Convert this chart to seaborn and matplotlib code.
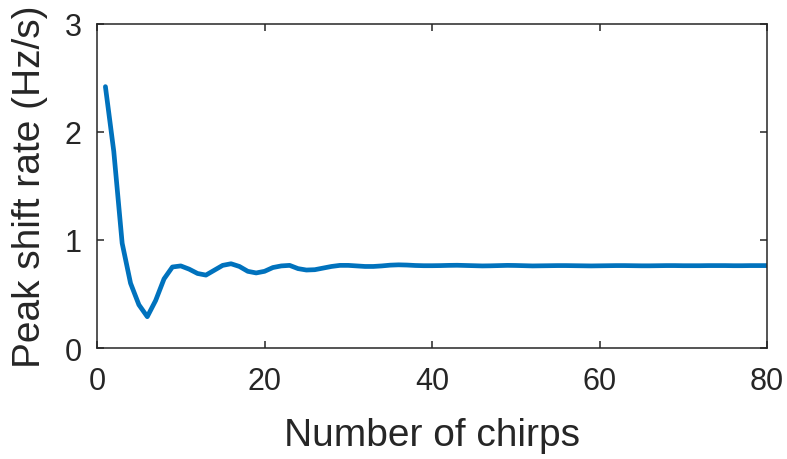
import numpy as np
import pandas as pd
import matplotlib
matplotlib.use("Agg")
import matplotlib.pyplot as plt
import seaborn as sns

# Peak shift rate estimated after each number of chirps
num_chirps = list(range(1, 81))
shift_rate = [
    2.42, 1.82, 0.97, 0.60, 0.40, 0.29, 0.44, 0.64, 0.75, 0.76,
    0.73, 0.69, 0.675, 0.72, 0.765, 0.78, 0.755, 0.71, 0.695, 0.71,
    0.745, 0.76, 0.765, 0.735, 0.722, 0.725, 0.74, 0.755, 0.765, 0.765,
    0.76, 0.755, 0.755, 0.76, 0.767, 0.770, 0.768, 0.764, 0.762, 0.762,
    0.763, 0.765, 0.766, 0.764, 0.762, 0.760, 0.761, 0.763, 0.765, 0.764,
    0.762, 0.760, 0.761, 0.762, 0.763, 0.763, 0.762, 0.761, 0.760, 0.761,
    0.762, 0.763, 0.763, 0.762, 0.761, 0.761, 0.762, 0.763, 0.763, 0.762,
    0.762, 0.762, 0.763, 0.763, 0.763, 0.762, 0.762, 0.763, 0.763, 0.763,
]
x_ticks = [0, 20, 40, 60, 80]
y_ticks = [0, 1, 2, 3]

sns.set_style("white")
plt.rcParams["font.family"] = ["Liberation Sans", "DejaVu Sans"]

df = pd.DataFrame({"chirps": num_chirps, "rate": shift_rate})

fig = plt.figure(figsize=(7.87, 4.60), dpi=100)
ax = fig.add_axes([0.1233, 0.2413, 0.8513, 0.7044])

sns.lineplot(data=df, x="chirps", y="rate", ax=ax, color="#0072BD",
             linewidth=3.4, solid_joinstyle="round")

ax.set_xlim(0, 80)
ax.set_ylim(0, 3)
ax.set_xticks(x_ticks)
ax.set_yticks(y_ticks)
ax.set_xlabel("Number of chirps", fontsize=28, color="#262626", labelpad=15)
ax.set_ylabel("Peak shift rate (Hz/s)", fontsize=28, color="#262626", labelpad=12)

for side in ["left", "right", "top", "bottom"]:
    ax.spines[side].set_visible(True)
    ax.spines[side].set_color("#262626")
    ax.spines[side].set_linewidth(1.1)

ax.tick_params(axis="both", which="major", direction="in", length=5, width=1.1,
               color="#262626", labelsize=22, labelcolor="#262626",
               top=True, right=True, bottom=True, left=True)
ax.tick_params(axis="x", pad=13)
ax.tick_params(axis="y", pad=11)

fig.savefig("out.png", dpi=100, facecolor="white")
